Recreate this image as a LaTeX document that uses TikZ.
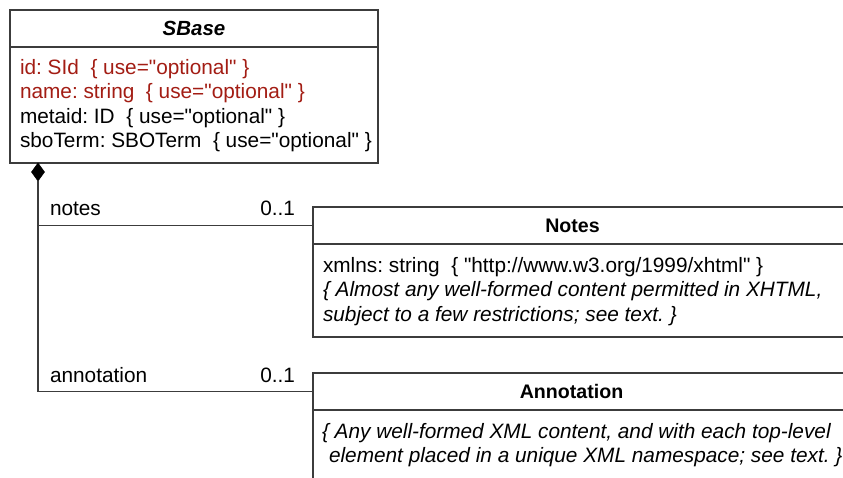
\documentclass[tikz,border=0pt]{standalone}
\usepackage{fontspec}
\setmainfont{Liberation Sans}[Ligatures=TeXOff]
\usetikzlibrary{shapes.geometric}
\definecolor{attrred}{RGB}{163,29,20}
\definecolor{edge}{RGB}{60,60,60}
\begin{document}
\frenchspacing
\begin{tikzpicture}[x=1pt,y=-1pt,
  font=\fontsize{20.8}{24.5}\selectfont,
  umlbox/.style={draw=edge,line width=1.2pt,rectangle,inner sep=0pt,outer sep=0pt},
  txt/.style={anchor=base west,inner sep=0pt,outer sep=0pt},
  lbl/.style={inner sep=0pt,outer sep=0pt},
  ttl/.style={inner sep=0pt,outer sep=0pt,font=\fontsize{19.6}{24}\selectfont\bfseries},
  conn/.style={draw=edge,line width=1.2pt},
  comp/.style={diamond,fill=black,draw=black,line width=0.5pt,inner sep=0pt,outer sep=0pt,minimum width=13pt,minimum height=18pt}]
\useasboundingbox (0,0) rectangle (843,477);
\clip (0,0) rectangle (843,477);
\fill[white] (0,0) rectangle (843,477);

% SBase
\node[umlbox,minimum width=368pt,minimum height=37pt,font=\fontsize{20.5}{24}\selectfont] (sbT) at (194,28.5) {\textbf{\textit{SBase}}};
\node[umlbox,minimum width=368pt,minimum height=116pt] (sbB) at (194,105) {};
\node[txt,text=attrred] (a1) at (20,74) {id: SId\ \ \{ use="optional" \}};
\node[txt,text=attrred] (a2) at (20,98.5) {name: string\ \ \{ use="optional" \}};
\node[txt] (a3) at (20,123) {metaid: ID\ \ \{ use="optional" \}};
\node[txt] (a4) at (20,147.5) {sboTerm: SBOTerm\ \ \{ use="optional" \}};

% Notes
\node[umlbox,minimum width=540pt,minimum height=37pt] (notesT) at (583,225.5) {};
\node[ttl] (notesN) at (572.5,225.5) {Notes};
\node[umlbox,minimum width=540pt,minimum height=93pt] (notesB) at (583,290.5) {};
\node[txt] (n1) at (323,272) {xmlns: string\ \ \{ "http://www.w3.org/1999/xhtml" \}};
\node[txt] (n2) at (323,296.5) {\textit{\{ Almost any well-formed content permitted in XHTML,}};
\node[txt] (n3) at (323,321) {\textit{subject to a few restrictions; see text. \}}};

% Annotation
\node[umlbox,minimum width=540pt,minimum height=37pt] (annT) at (583,391.5) {};
\node[ttl] (annN) at (571.5,391.5) {Annotation};
\node[umlbox,minimum width=540pt,minimum height=93pt] (annB) at (583,456.5) {};
\node[txt] (m1) at (322,438) {\textit{\{ Any well-formed XML content, and with each top-level}};
\node[txt] (m2) at (329,462.5) {\textit{element placed in a unique XML namespace; see text. \}}};

% composition
\node[comp,anchor=north] (dia) at ([xshift=28pt]sbB.south west) {};
\draw[conn] (dia.south) |- (notesT.west);
\draw[conn] (dia.south) |- (annT.west);

% association labels
\node[txt] (l1) at (50,215) {notes};
\node[lbl,anchor=base east] (l2) at (295,215) {0..1};
\node[txt] (l3) at (50,382) {annotation};
\node[lbl,anchor=base east] (l4) at (295,382) {0..1};
\end{tikzpicture}
\end{document}
